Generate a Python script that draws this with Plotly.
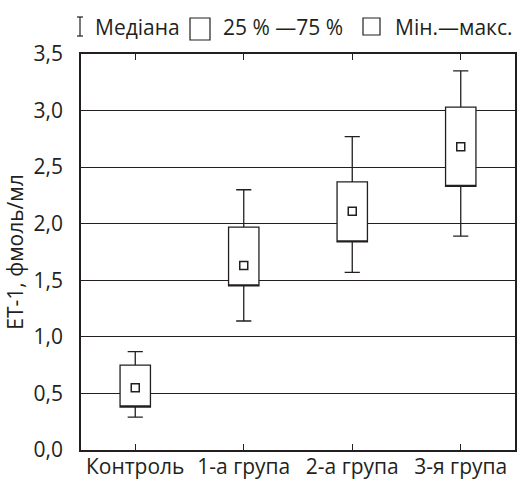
import plotly.graph_objects as go

categories = ["Контроль", "1-а група", "2-а група", "3-я група"]
mins = [0.29, 1.14, 1.57, 1.89]
q1 = [0.38, 1.45, 1.84, 2.33]
medians = [0.55, 1.63, 2.11, 2.68]
q3 = [0.75, 1.97, 2.37, 3.03]
maxs = [0.87, 2.30, 2.77, 3.35]
y_title = "ЕТ-1, фмоль/мл"
legend_texts = ["Медіана", "25 % —75 %", "Мін.—макс."]

INK = "#231f20"
FONT = "Open Sans"
FS = 21

W, H = 517, 479
L, R, T, B = 81, 2, 54, 29
pw, ph = W - L - R, H - T - B


def px(x):
    return (x - L) / pw


def py(y):
    return (H - B - y) / ph


fig = go.Figure()
fig.add_trace(go.Box(
    x=categories, q1=q1, median=q1, q3=q3, lowerfence=mins, upperfence=maxs,
    fillcolor="white", line=dict(color=INK, width=1.3), whiskerwidth=0.5,
    boxpoints=False, hoverinfo="skip", showlegend=False,
))
fig.add_trace(go.Scatter(
    x=categories, y=medians, mode="markers",
    marker=dict(symbol="square-open", size=8, color=INK, line=dict(width=1.5, color=INK)),
    showlegend=False,
))

shapes = []
shapes.append(dict(type="line", xref="paper", yref="paper", x0=px(80), x1=px(80), y0=py(17), y1=py(36), line=dict(color=INK, width=1.2)))
shapes.append(dict(type="line", xref="paper", yref="paper", x0=px(77), x1=px(83), y0=py(17), y1=py(17), line=dict(color=INK, width=1.2)))
shapes.append(dict(type="line", xref="paper", yref="paper", x0=px(77), x1=px(83), y0=py(36), y1=py(36), line=dict(color=INK, width=1.2)))
shapes.append(dict(type="rect", xref="paper", yref="paper", x0=px(190), x1=px(210), y0=py(18), y1=py(40), line=dict(color=INK, width=1.2)))
shapes.append(dict(type="rect", xref="paper", yref="paper", x0=px(363), x1=px(380), y0=py(18), y1=py(35), line=dict(color=INK, width=1.2)))

annotations = []
for txt, x0 in zip(legend_texts, [93, 221, 393]):
    annotations.append(dict(text=txt, xref="paper", yref="paper", x=px(x0), y=py(27),
                            xanchor="left", yanchor="middle", showarrow=False,
                            font=dict(family=FONT, size=FS, color=INK)))

fig.update_layout(
    width=W, height=H, margin=dict(l=L, r=R, t=T, b=B, pad=0, autoexpand=False),
    paper_bgcolor="white", plot_bgcolor="white",
    separators=", ",
    font=dict(family=FONT, size=FS, color=INK),
    boxgap=0.6,
    shapes=shapes, annotations=annotations,
    xaxis=dict(type="category", range=[-0.5, 3.5], showline=True, linecolor=INK, linewidth=1.5,
               mirror="ticks", ticks="inside", ticklen=6, tickwidth=1.2, tickcolor=INK,
               showgrid=False, ticklabelstandoff=-3, automargin=False),
    yaxis=dict(range=[0, 3.5], dtick=0.5, tickformat=".1f", showline=True, linecolor=INK, linewidth=1.5,
               mirror=True, ticks="", showgrid=True, gridcolor=INK, gridwidth=1.2, zeroline=False,
               ticklabelstandoff=12, automargin=False,
               title=dict(text=y_title, standoff=4, font=dict(family=FONT, size=FS, color=INK))),
)

fig.write_html("out.html", config={"displayModeBar": False},
               post_script="document.body.style.margin='0';document.body.style.overflow='hidden';")
